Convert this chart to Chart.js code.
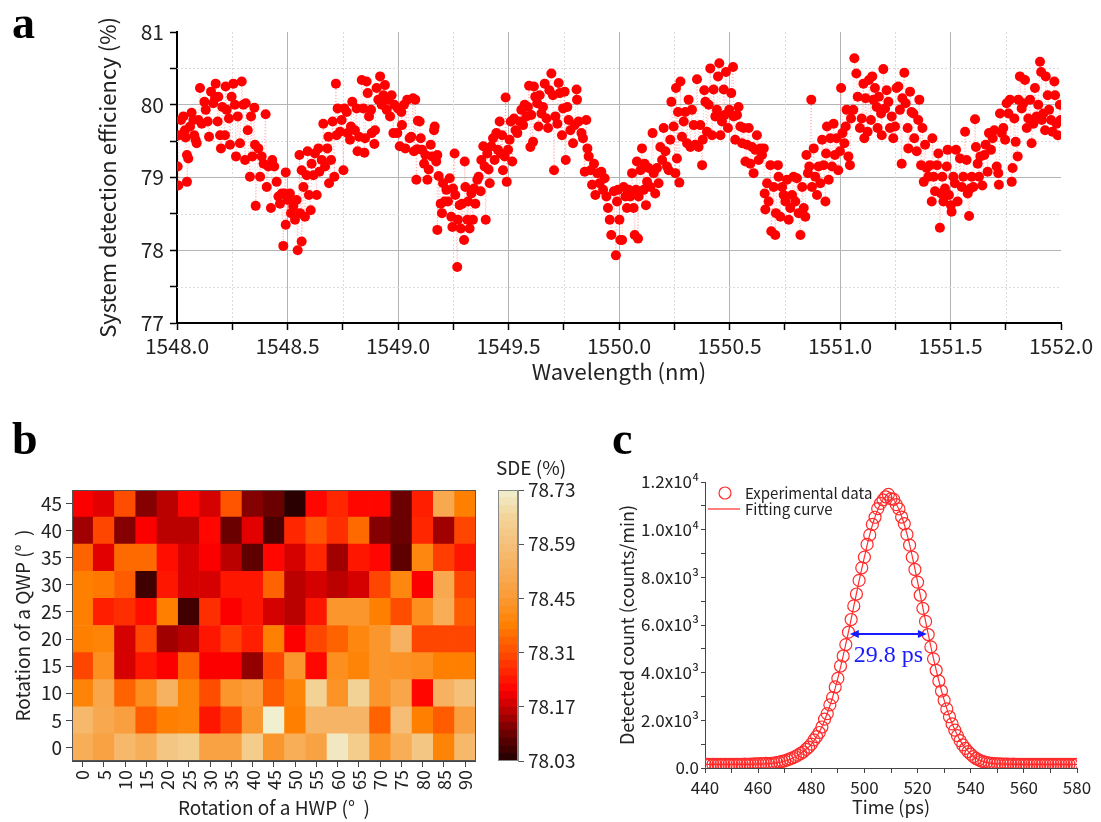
<!DOCTYPE html>
<html><head><meta charset="utf-8">
<script src="https://cdn.jsdelivr.net/npm/chart.js@4.4.1/dist/chart.umd.min.js"></script>
<style>
html,body{margin:0;padding:0;background:#fff;}
#wrap{position:relative;width:1101px;height:822px;overflow:hidden;background:#fff;}
canvas{position:absolute;}
.lbl{position:absolute;font-family:'Liberation Serif','Times New Roman',serif;font-weight:bold;font-size:46px;line-height:46px;color:#000;}
#sdeTitle{position:absolute;left:486px;top:456px;width:90px;text-align:center;font-family:'Noto Sans CJK JP','Noto Sans',sans-serif;font-size:19px;line-height:22px;color:#222;}
</style></head>
<body><div id="wrap">
<canvas id="ca" width="1101" height="400" style="left:0;top:0;width:1101px;height:400px"></canvas>
<canvas id="cb" width="490" height="382" style="left:0;top:440px;width:490px;height:382px"></canvas>
<canvas id="cbar" width="120" height="382" style="left:490px;top:440px;width:120px;height:382px"></canvas>
<canvas id="cc" width="521" height="362" style="left:580px;top:460px;width:521px;height:362px"></canvas>
<div class="lbl" style="left:12px;top:0px">a</div>
<div class="lbl" style="left:12px;top:416px">b</div>
<div class="lbl" style="left:612px;top:416px">c</div>
<div id="sdeTitle">SDE (%)</div>
</div>
<script>
// ---------------- Panel a data ----------------
const wavelengthNm = [
1548.003,1548.006,1548.009,1548.018,1548.029,1548.036,1548.039,1548.045,1548.045,1548.051,
1548.059,1548.066,1548.074,1548.078,1548.084,1548.089,1548.097,1548.104,1548.112,1548.124,
1548.130,1548.139,1548.145,1548.154,1548.164,1548.172,1548.175,1548.184,1548.187,1548.195,
1548.199,1548.205,1548.217,1548.220,1548.225,1548.235,1548.240,1548.247,1548.255,1548.262,
1548.267,1548.275,1548.285,1548.293,1548.300,1548.308,1548.311,1548.320,1548.330,1548.335,
1548.341,1548.350,1548.353,1548.356,1548.368,1548.376,1548.383,1548.392,1548.401,1548.406,
1548.413,1548.425,1548.431,1548.440,1548.451,1548.459,1548.466,1548.474,1548.481,1548.486,
1548.492,1548.492,1548.501,1548.511,1548.516,1548.526,1548.534,1548.541,1548.546,1548.554,
1548.557,1548.564,1548.564,1548.572,1548.579,1548.587,1548.591,1548.597,1548.605,1548.609,
1548.617,1548.624,1548.632,1548.640,1548.644,1548.655,1548.662,1548.670,1548.680,1548.685,
1548.688,1548.697,1548.704,1548.712,1548.719,1548.722,1548.727,1548.738,1548.745,1548.753,
1548.757,1548.768,1548.772,1548.783,1548.787,1548.793,1548.805,1548.813,1548.817,1548.824,
1548.836,1548.843,1548.848,1548.851,1548.858,1548.863,1548.869,1548.878,1548.881,1548.893,
1548.896,1548.903,1548.911,1548.919,1548.926,1548.934,1548.941,1548.949,1548.956,1548.964,
1548.971,1548.979,1548.983,1548.997,1549.000,1549.008,1549.015,1549.018,1549.027,1549.033,
1549.042,1549.053,1549.060,1549.068,1549.072,1549.078,1549.083,1549.087,1549.090,1549.098,
1549.103,1549.109,1549.118,1549.124,1549.133,1549.139,1549.148,1549.154,1549.163,1549.166,
1549.173,1549.178,1549.178,1549.184,1549.193,1549.199,1549.204,1549.211,1549.219,1549.226,
1549.234,1549.241,1549.246,1549.249,1549.256,1549.259,1549.268,1549.271,1549.279,1549.284,
1549.290,1549.299,1549.302,1549.305,1549.314,1549.317,1549.324,1549.332,1549.339,1549.344,
1549.350,1549.359,1549.365,1549.374,1549.377,1549.386,1549.392,1549.397,1549.404,1549.410,
1549.415,1549.422,1549.430,1549.437,1549.445,1549.452,1549.460,1549.465,1549.471,1549.475,
1549.483,1549.487,1549.492,1549.498,1549.505,1549.510,1549.517,1549.525,1549.532,1549.540,
1549.551,1549.558,1549.566,1549.573,1549.581,1549.588,1549.593,1549.599,1549.603,1549.611,
1549.615,1549.621,1549.630,1549.636,1549.641,1549.649,1549.656,1549.664,1549.672,1549.679,
1549.685,1549.694,1549.701,1549.706,1549.712,1549.721,1549.727,1549.732,1549.742,1549.747,
1549.754,1549.759,1549.766,1549.772,1549.780,1549.792,1549.799,1549.808,1549.810,1549.817,
1549.830,1549.837,1549.845,1549.852,1549.857,1549.863,1549.872,1549.878,1549.887,1549.893,
1549.902,1549.912,1549.920,1549.928,1549.935,1549.943,1549.950,1549.958,1549.965,1549.977,
1549.986,1549.991,1549.995,1550.002,1550.006,1550.014,1550.021,1550.029,1550.036,1550.044,
1550.051,1550.059,1550.066,1550.071,1550.077,1550.081,1550.086,1550.089,1550.097,1550.104,
1550.112,1550.116,1550.122,1550.127,1550.134,1550.142,1550.152,1550.157,1550.164,1550.172,
1550.179,1550.187,1550.195,1550.202,1550.210,1550.217,1550.225,1550.232,1550.237,1550.247,
1550.255,1550.258,1550.262,1550.267,1550.273,1550.278,1550.285,1550.293,1550.300,1550.308,
1550.315,1550.323,1550.330,1550.338,1550.345,1550.353,1550.360,1550.368,1550.376,1550.379,
1550.386,1550.391,1550.398,1550.406,1550.413,1550.421,1550.428,1550.436,1550.443,1550.448,
1550.454,1550.459,1550.466,1550.474,1550.478,1550.484,1550.493,1550.499,1550.508,1550.516,
1550.519,1550.526,1550.534,1550.541,1550.549,1550.557,1550.564,1550.572,1550.579,1550.587,
1550.594,1550.602,1550.609,1550.617,1550.624,1550.632,1550.640,1550.647,1550.655,1550.659,
1550.662,1550.670,1550.677,1550.685,1550.689,1550.700,1550.707,1550.710,1550.719,1550.722,
1550.730,1550.738,1550.745,1550.753,1550.760,1550.768,1550.775,1550.783,1550.790,1550.798,
1550.805,1550.813,1550.821,1550.829,1550.836,1550.843,1550.848,1550.855,1550.861,1550.870,
1550.873,1550.881,1550.888,1550.896,1550.903,1550.911,1550.919,1550.926,1550.934,1550.937,
1550.941,1550.949,1550.956,1550.964,1550.971,1550.977,1550.985,1550.992,1551.000,1551.005,
1551.011,1551.020,1551.026,1551.030,1551.038,1551.045,1551.050,1551.060,1551.065,1551.074,
1551.080,1551.090,1551.098,1551.106,1551.110,1551.116,1551.125,1551.131,1551.140,1551.146,
1551.151,1551.158,1551.166,1551.170,1551.176,1551.186,1551.189,1551.196,1551.204,1551.211,
1551.219,1551.226,1551.234,1551.241,1551.249,1551.256,1551.264,1551.271,1551.279,1551.282,
1551.291,1551.297,1551.306,1551.309,1551.317,1551.324,1551.332,1551.336,1551.347,1551.354,
1551.359,1551.367,1551.373,1551.379,1551.385,1551.392,1551.400,1551.407,1551.415,1551.418,
1551.424,1551.430,1551.439,1551.445,1551.452,1551.457,1551.463,1551.468,1551.475,1551.483,
1551.487,1551.493,1551.502,1551.505,1551.513,1551.520,1551.525,1551.532,1551.543,1551.551,
1551.558,1551.566,1551.573,1551.578,1551.584,1551.590,1551.596,1551.603,1551.611,1551.615,
1551.623,1551.629,1551.635,1551.644,1551.653,1551.659,1551.668,1551.674,1551.683,1551.691,
1551.698,1551.709,1551.716,1551.719,1551.724,1551.732,1551.739,1551.747,1551.754,1551.762,
1551.769,1551.777,1551.781,1551.789,1551.795,1551.804,1551.807,1551.814,1551.822,1551.830,
1551.837,1551.845,1551.852,1551.860,1551.867,1551.875,1551.882,1551.890,1551.897,1551.905,
1551.910,1551.913,1551.920,1551.928,1551.931,1551.940,1551.946,1551.955,1551.961,1551.970,
1551.973,1551.980,1551.985,1551.995,1551.998
];
const sdePercent = [
79.15,78.89,79.58,79.79,79.84,79.65,79.55,79.31,78.94,79.26,
79.70,79.89,79.79,79.58,79.52,79.47,79.79,80.23,79.74,80.04,
79.93,79.77,79.56,80.18,80.02,80.09,80.29,79.77,80.11,79.58,
79.40,79.97,79.58,80.25,79.93,79.81,79.45,80.11,80.29,80.00,
79.29,79.84,79.47,80.32,80.00,79.24,80.02,79.65,79.01,79.84,
79.29,79.96,79.45,78.61,79.40,79.01,79.29,79.19,79.87,78.87,
79.15,78.58,79.24,79.15,78.94,78.74,78.64,78.78,78.06,78.78,
79.07,78.35,78.69,78.78,78.51,78.60,78.42,78.69,78.00,79.31,
78.51,79.10,78.12,78.87,78.46,79.03,79.36,78.76,78.55,79.19,
79.03,79.33,78.76,79.40,79.08,79.24,79.74,79.15,79.40,79.56,
78.92,79.24,79.77,79.01,80.29,79.58,79.95,79.63,79.79,79.10,
79.95,79.90,79.61,79.52,79.70,80.04,79.65,79.95,79.36,79.56,
80.34,79.95,79.34,79.54,80.32,80.16,79.84,79.93,79.61,79.46,
79.65,80.23,80.07,80.39,80.00,80.13,80.27,79.93,80.07,79.84,
80.13,79.61,80.00,79.61,79.95,79.43,79.90,79.72,80.00,79.40,
80.07,79.54,79.56,80.09,79.36,80.07,78.97,79.39,79.78,79.77,
79.54,79.38,79.19,79.31,78.97,79.11,79.45,79.29,79.65,79.70,
79.22,79.31,78.28,79.02,78.64,78.51,78.92,78.67,78.83,78.67,
78.99,78.46,78.32,78.85,79.33,78.76,77.77,78.42,78.62,78.30,
78.64,78.14,79.22,78.87,78.42,78.67,78.30,78.78,78.42,78.85,
78.64,78.97,79.01,78.81,79.24,79.43,79.15,78.42,79.33,79.11,
78.92,79.43,79.54,79.24,79.61,79.38,79.77,79.33,79.58,79.10,
79.29,80.10,78.94,79.38,79.52,79.77,79.22,79.81,79.65,79.61,
79.77,79.93,79.72,80.00,79.84,79.97,80.26,79.42,79.86,79.49,
80.25,80.11,80.02,79.70,80.13,79.88,79.97,80.29,79.81,79.68,
80.20,80.43,80.13,79.10,79.84,79.74,80.30,80.16,79.58,79.95,
80.18,79.24,79.97,79.79,79.65,79.47,79.72,80.21,80.07,79.77,
79.61,79.54,79.08,79.79,79.40,79.29,79.10,78.90,79.19,78.76,
79.06,78.92,79.08,78.83,78.99,78.74,78.58,78.42,78.21,78.81,
77.93,78.67,78.83,78.42,78.14,78.14,78.87,78.74,78.58,78.83,
78.74,79.06,78.58,78.21,78.83,79.22,78.16,78.74,79.10,79.40,
78.83,79.19,78.62,78.94,79.13,78.87,79.61,79.06,78.78,79.13,
78.92,79.42,79.24,79.68,79.36,79.15,79.10,79.52,80.04,79.70,
79.06,80.23,79.26,79.90,78.93,80.32,79.56,79.77,79.90,79.47,
80.07,79.42,79.93,79.72,79.45,80.35,79.42,79.72,79.17,79.52,
80.20,80.04,79.63,80.00,80.50,79.58,80.21,79.84,79.93,80.39,
80.57,79.58,79.77,80.21,79.86,80.45,79.68,79.93,80.16,80.52,
79.84,79.52,79.86,79.97,79.70,79.47,79.68,79.22,79.45,79.68,
79.19,79.42,79.06,79.38,79.58,79.24,79.40,79.31,79.40,78.78,
78.56,78.92,78.67,79.17,78.26,78.87,78.21,78.51,79.17,79.01,
78.46,78.87,78.76,78.67,78.97,78.42,78.58,78.76,79.01,78.67,
78.99,78.51,78.21,78.87,78.58,78.46,79.31,79.06,79.15,80.07,
78.87,79.40,79.01,78.76,79.15,78.92,79.52,79.17,78.67,79.33,
79.70,78.97,79.54,79.15,79.74,79.31,79.54,79.10,79.36,80.23,
79.61,79.47,79.70,79.93,79.29,79.17,79.81,79.93,80.64,80.43,
80.11,79.68,79.81,80.29,79.54,80.09,79.63,80.34,79.79,80.39,
80.07,80.23,79.97,79.68,80.11,79.88,79.58,80.49,79.95,80.20,
80.04,79.68,79.84,79.54,79.70,80.23,80.25,79.93,79.19,80.09,
80.44,80.02,79.68,79.40,80.18,79.90,79.88,79.54,79.36,79.79,
80.07,79.17,79.68,78.94,79.45,79.13,79.01,79.17,78.67,79.54,
79.01,78.81,79.17,79.33,78.31,78.78,79.01,78.67,78.85,79.15,
79.38,78.76,78.62,78.53,79.01,78.92,79.38,78.67,79.26,78.87,
79.01,79.63,79.24,78.78,78.47,78.85,79.01,78.87,79.80,79.42,
79.19,79.01,79.29,78.89,79.31,79.45,79.08,79.61,79.38,79.54,
79.65,79.15,79.06,78.90,79.88,79.61,79.68,79.52,80.02,79.88,
80.07,78.94,79.13,79.81,79.49,79.29,80.07,80.39,79.95,80.02,
80.34,79.68,79.81,80.07,79.47,79.74,80.23,79.84,80.00,80.59,
80.45,79.79,79.88,79.65,80.39,80.13,79.93,79.79,79.63,80.32,
80.13,79.74,79.58,80.00,79.79
];

// ---------------- Panel b data ----------------
const hwpDeg = [0,5,10,15,20,25,30,35,40,45,50,55,60,65,70,75,80,85,90];
const qwpDeg = [0,5,10,15,20,25,30,35,40,45];
const sdeQwp0  = [78.52,78.48,78.56,78.52,78.61,78.63,78.48,78.48,78.63,78.44,78.52,78.48,78.71,78.63,78.43,78.52,78.61,78.39,78.56];
const sdeQwp5  = [78.56,78.50,78.47,78.33,78.38,78.39,78.24,78.30,78.44,78.73,78.38,78.55,78.55,78.55,78.34,78.58,78.38,78.33,78.47];
const sdeQwp10 = [78.39,78.49,78.34,78.42,78.54,78.39,78.31,78.44,78.46,78.33,78.39,78.65,78.43,78.65,78.44,78.49,78.22,78.54,78.59];
const sdeQwp15 = [78.30,78.42,78.18,78.24,78.21,78.34,78.21,78.21,78.13,78.30,78.44,78.22,78.42,78.39,78.44,78.43,78.42,78.38,78.38];
const sdeQwp20 = [78.38,78.39,78.18,78.30,78.14,78.16,78.24,78.29,78.25,78.38,78.21,78.30,78.34,78.40,78.44,78.54,78.30,78.30,78.30];
const sdeQwp25 = [78.38,78.25,78.27,78.23,78.38,78.06,78.27,78.21,78.24,78.18,78.16,78.24,78.44,78.44,78.38,78.31,78.42,78.52,78.33];
const sdeQwp30 = [78.38,78.37,78.33,78.06,78.24,78.18,78.18,78.24,78.24,78.34,78.16,78.18,78.16,78.18,78.30,78.40,78.21,78.50,78.30];
const sdeQwp35 = [78.34,78.19,78.35,78.35,78.23,78.18,78.21,78.16,78.09,78.22,78.18,78.26,78.14,78.24,78.22,78.09,78.40,78.29,78.24];
const sdeQwp40 = [78.14,78.30,78.12,78.21,78.16,78.16,78.22,78.10,78.19,78.07,78.26,78.32,78.27,78.35,78.12,78.10,78.26,78.14,78.30];
const sdeQwp45 = [78.21,78.19,78.31,78.12,78.16,78.22,78.18,78.32,78.12,78.10,78.04,78.22,78.26,78.22,78.22,78.10,78.25,78.50,78.38];
const sdeRows = [sdeQwp0,sdeQwp5,sdeQwp10,sdeQwp15,sdeQwp20,sdeQwp25,sdeQwp30,sdeQwp35,sdeQwp40,sdeQwp45];
const cbMin = 78.03, cbMax = 78.73;
const cbTicks = [78.03,78.17,78.31,78.45,78.59,78.73];

// ---------------- Panel c data ----------------
const timePs = [
440,441,442,443,444,445,446,447,448,449,450,451,452,453,454,455,456,457,458,459,
460,461,462,463,464,465,466,467,468,469,470,471,472,473,474,475,476,477,478,479,
480,481,482,483,484,485,486,487,488,489,490,491,492,493,494,495,496,497,498,499,
500,501,502,503,504,505,506,507,508,509,510,511,512,513,514,515,516,517,518,519,
520,521,522,523,524,525,526,527,528,529,530,531,532,533,534,535,536,537,538,539,
540,541,542,543,544,545,546,547,548,549,550,551,552,553,554,555,556,557,558,559,
560,561,562,563,564,565,566,567,568,569,570,571,572,573,574,575,576,577,578,579,580
];
const expCounts = [
160,150,155,148,152,150,158,150,153,149,155,152,150,157,153,160,158,165,162,170,
172,180,178,190,185,195,210,230,250,280,300,340,380,430,480,540,610,680,780,880,
1000,1180,1320,1490,1720,2050,2280,2650,2950,3400,3760,4280,4700,5180,5700,6230,6800,7300,7870,8400,
8850,9380,9780,10220,10520,10880,11100,11250,11380,11480,11300,11270,11050,10870,10530,10250,9800,9350,8850,8330,
7800,7250,6700,6150,5600,5080,4580,4100,3650,3230,2840,2480,2150,1850,1590,1360,1150,970,820,690,
580,480,400,340,290,255,230,210,195,185,178,172,168,165,160,158,162,155,157,152,
155,150,153,151,156,150,152,149,154,150,153,150,151,155,150,152,149,153,150,152,150
];
const fitTimePs = [
440,442,444,446,448,450,452,454,456,458,460,462,464,466,468,470,472,474,476,478,
480,482,484,486,488,490,492,494,496,498,500,502,504,506,508,510,512,514,516,518,
520,522,524,526,528,530,532,534,536,538,540,542,544,546,548,550,552,554,556,558,
560,562,564,566,568,570,572,574,576,578,580
];
const fitCounts = [
150,150,150,150,150,150,150,151,152,155,160,168,180,200,235,285,360,470,610,780,
990,1310,1730,2290,2960,3770,4700,5710,6790,7860,8860,9790,10540,11090,11370,11360,11080,10560,9820,8880,
7820,6720,5620,4590,3660,2850,2160,1600,1160,830,590,410,300,235,198,178,166,160,156,153,
152,151,150,150,150,150,150,150,150,150,150
];
const legendLabels = ['Experimental data','Fitting curve'];
const fwhmStartPs = 494.5, fwhmEndPs = 523.5, fwhmLevel = 5620, fwhmText = '29.8 ps';

// ---------------- common ----------------
const FONT = "'Noto Sans CJK JP','Noto Sans',sans-serif";
Chart.defaults.font.family = FONT;
Chart.defaults.color = '#222';
Chart.defaults.animation = false;
Chart.defaults.responsive = false;
Chart.defaults.devicePixelRatio = 1;
Chart.defaults.plugins.legend.display = false;
Chart.defaults.plugins.tooltip.enabled = false;

const heatStops = [
  [0,[32,0,0]],[0.1,[106,0,0]],[0.2,[200,0,0]],[0.26,[255,0,0]],[0.39,[255,72,0]],
  [0.5,[255,128,0]],[0.6,[250,154,53]],[0.8,[245,192,122]],[0.9,[243,213,154]],[1,[240,240,208]]
];
function heatColor(v){
  let t = (v - cbMin)/(cbMax - cbMin);
  t = Math.max(0, Math.min(1, t));
  for (let i = 1; i < heatStops.length; i++){
    const [t1,c1] = heatStops[i];
    if (t <= t1){
      const [t0,c0] = heatStops[i-1];
      const f = (t - t0)/(t1 - t0);
      const c = c0.map((a,k)=>Math.round(a + (c1[k]-a)*f));
      return `rgb(${c[0]},${c[1]},${c[2]})`;
    }
  }
  return 'rgb(240,240,208)';
}

// ---------------- Panel a ----------------
const isHalf = v => Math.abs(v*2 - Math.round(v*2)) < 1e-6;
const isInt = v => Math.abs(v - Math.round(v)) < 1e-6;
const minorGrid = {
  id: 'minorGrid',
  beforeDatasetsDraw(chart, args, opts){
    const {ctx, chartArea:a, scales:{x, y}} = chart;
    ctx.save();
    ctx.strokeStyle = opts.color; ctx.lineWidth = 1; ctx.setLineDash(opts.dash);
    x.ticks.forEach(t => {
      if (!isHalf(t.value)) {
        const px = Math.round(x.getPixelForValue(t.value)) + 0.5;
        ctx.beginPath(); ctx.moveTo(px, a.top); ctx.lineTo(px, a.bottom); ctx.stroke();
      }
    });
    y.ticks.forEach(t => {
      if (!isInt(t.value)) {
        const py = Math.round(y.getPixelForValue(t.value)) + 0.5;
        ctx.beginPath(); ctx.moveTo(a.left, py); ctx.lineTo(a.right, py); ctx.stroke();
      }
    });
    ctx.restore();
  }
};
const scanPoints = wavelengthNm.map((w,i)=>({x:w, y:sdePercent[i]})).sort((p,q)=>p.x-q.x);
new Chart(document.getElementById('ca'), {
  type: 'scatter',
  data: { datasets: [{
    data: scanPoints, showLine: true,
    borderColor: 'rgba(255,90,90,0.45)', borderWidth: 1, borderDash: [1,2],
    pointRadius: 5, pointHoverRadius: 5,
    pointBackgroundColor: '#ff0000', pointBorderColor: '#ff0000', pointBorderWidth: 0
  }]},
  options: {
    layout: { padding: { top: 32, right: 40, left: 0, bottom: 0 } },
    scales: {
      x: {
        type: 'linear', min: 1548, max: 1552,
        afterFit(s){ s.height = 77; },
        ticks: { stepSize: 0.25, maxTicksLimit: 1000, autoSkip: false, maxRotation: 0, minRotation: 0,
          padding: 3, font: { size: 21 }, color: '#222',
          callback: v => isHalf(v) ? v.toFixed(1) : '' },
        grid: { color: c => (c.tick && isHalf(c.tick.value) && c.tick.value < 1552) ? '#b4b4b4' : 'rgba(0,0,0,0)',
          lineWidth: 1, tickLength: 7, tickColor: '#000', tickWidth: 1.5 },
        border: { display: true, color: '#000', width: 2 },
        title: { display: true, text: 'Wavelength (nm)', font: { size: 22 }, color: '#222', padding: { top: 0, bottom: 15 } }
      },
      y: {
        type: 'linear', min: 77, max: 81,
        afterFit(s){ s.width = 177; },
        ticks: { stepSize: 0.5, maxTicksLimit: 1000, padding: 6, font: { size: 21 }, color: '#222',
          callback: v => isInt(v) ? String(Math.round(v)) : '' },
        grid: { color: c => (c.tick && isInt(c.tick.value) && c.tick.value < 81) ? '#b4b4b4' : 'rgba(0,0,0,0)',
          lineWidth: 1, tickLength: 7, tickColor: '#000', tickWidth: 1.5 },
        border: { display: true, color: '#000', width: 2 },
        title: { display: true, text: 'System detection efficiency (%)', font: { size: 22 }, color: '#222', padding: { top: 94, bottom: 0 } }
      }
    },
    plugins: { minorGrid: { color: '#dedada', dash: [2,2] } }
  },
  plugins: [minorGrid]
});

// ---------------- Panel b heatmap ----------------
const frame = {
  id: 'frame',
  afterDraw(chart, args, opts){
    const {ctx, chartArea:a} = chart;
    ctx.save(); ctx.strokeStyle = opts.color; ctx.lineWidth = 1;
    ctx.strokeRect(Math.round(a.left)+0.5, Math.round(a.top)+0.5, Math.round(a.right-a.left)-1, Math.round(a.bottom-a.top)-1);
    ctx.restore();
  }
};
new Chart(document.getElementById('cb'), {
  type: 'bar',
  data: {
    labels: hwpDeg.map(String),
    datasets: qwpDeg.map((q, r) => ({
      data: hwpDeg.map(() => [q - 2.5, q + 2.5]),
      backgroundColor: sdeRows[r].map(heatColor),
      borderWidth: 0, barPercentage: 1, categoryPercentage: 1, grouped: false
    }))
  },
  options: {
    layout: { padding: { top: 50, right: 7, left: 0, bottom: 0 } },
    scales: {
      x: {
        type: 'category',
        afterFit(s){ s.height = 61; },
        ticks: { minRotation: 90, maxRotation: 90, autoSkip: false, padding: 3, font: { size: 18 }, color: '#222' },
        grid: { offset: false, drawOnChartArea: false, tickLength: 6, tickColor: '#444' },
        border: { color: '#444', width: 1 },
        title: { display: true, text: 'Rotation of a HWP (°  )', font: { size: 19 }, color: '#222', padding: { top: 0, bottom: 3 } }
      },
      y: {
        type: 'linear', min: -2.5, max: 47.5,
        afterBuildTicks(s){ s.ticks = qwpDeg.map(v => ({ value: v })); },
        afterFit(s){ s.width = 72; },
        ticks: { padding: 4, font: { size: 19 }, color: '#222', callback: v => String(v) },
        grid: { drawOnChartArea: false, tickLength: 6, tickColor: '#444' },
        border: { color: '#444', width: 1 },
        title: { display: true, text: 'Rotation of a QWP (°  )', font: { size: 19 }, color: '#222', padding: { top: 11, bottom: 0 } }
      }
    },
    plugins: { frame: { color: '#555' } }
  },
  plugins: [frame]
});

// ---------------- Panel b colorbar ----------------
const cbSteps = 35;
new Chart(document.getElementById('cbar'), {
  type: 'bar',
  data: {
    labels: [''],
    datasets: Array.from({ length: cbSteps }, (_, i) => {
      const lo = cbMin + (cbMax - cbMin) * i / cbSteps;
      const hi = cbMin + (cbMax - cbMin) * (i + 1) / cbSteps;
      return { data: [[lo, hi]], backgroundColor: heatColor((lo + hi) / 2),
        borderWidth: 0, barPercentage: 1, categoryPercentage: 1, grouped: false };
    })
  },
  options: {
    layout: { padding: { top: 50, right: 0, left: 8, bottom: 61 } },
    scales: {
      x: { display: false },
      y: {
        position: 'right', min: cbMin, max: cbMax,
        afterBuildTicks(s){ s.ticks = cbTicks.map(v => ({ value: v })); },
        afterFit(s){ s.width = 92; },
        ticks: { padding: 4, font: { size: 19 }, color: '#222', callback: v => Number(v).toFixed(2) },
        grid: { drawOnChartArea: false, tickLength: 6, tickColor: '#555' },
        border: { color: '#888', width: 1 }
      }
    },
    plugins: { frame: { color: '#888' } }
  },
  plugins: [frame]
});

// ---------------- Panel c ----------------
function fmtCount(v){
  if (v === 0) return '0.0';
  if (v < 10000) return (v/1000).toFixed(1) + 'x10³';
  return (v/10000).toFixed(1) + 'x10⁴';
}
const cExtras = {
  id: 'cExtras',
  afterDatasetsDraw(chart){
    const {ctx, chartArea:a, scales:{x, y}} = chart;
    ctx.save();
    ctx.strokeStyle = '#ff2a2a'; ctx.lineWidth = 1.2;
    ctx.beginPath(); ctx.arc(a.left + 20, a.top + 11, 6, 0, Math.PI * 2); ctx.stroke();
    ctx.beginPath(); ctx.moveTo(a.left + 3, a.top + 27); ctx.lineTo(a.left + 35, a.top + 27); ctx.stroke();
    ctx.fillStyle = '#222'; ctx.font = "15px " + FONT; ctx.textBaseline = 'middle'; ctx.textAlign = 'left';
    ctx.fillText(legendLabels[0], a.left + 40, a.top + 11);
    ctx.fillText(legendLabels[1], a.left + 40, a.top + 27);
    const x1 = x.getPixelForValue(fwhmStartPs), x2 = x.getPixelForValue(fwhmEndPs), yy = y.getPixelForValue(fwhmLevel);
    ctx.strokeStyle = '#1a1aff'; ctx.fillStyle = '#1a1aff'; ctx.lineWidth = 2;
    ctx.beginPath(); ctx.moveTo(x1 + 6, yy); ctx.lineTo(x2 - 6, yy); ctx.stroke();
    ctx.beginPath(); ctx.moveTo(x1, yy); ctx.lineTo(x1 + 9, yy - 4); ctx.lineTo(x1 + 9, yy + 4); ctx.closePath(); ctx.fill();
    ctx.beginPath(); ctx.moveTo(x2, yy); ctx.lineTo(x2 - 9, yy - 4); ctx.lineTo(x2 - 9, yy + 4); ctx.closePath(); ctx.fill();
    ctx.font = "24px 'Liberation Serif','Times New Roman',serif"; ctx.textAlign = 'center';
    ctx.fillText(fwhmText, (x1 + x2) / 2, yy + 22);
    ctx.restore();
  }
};
new Chart(document.getElementById('cc'), {
  type: 'scatter',
  data: { datasets: [
    { data: timePs.map((t,i)=>({x:t, y:expCounts[i]})), showLine: false,
      pointRadius: 6, pointHoverRadius: 6, pointBorderColor: '#ff2a2a', pointBackgroundColor: 'rgba(0,0,0,0)', pointBorderWidth: 1.2 },
    { data: fitTimePs.map((t,i)=>({x:t, y:fitCounts[i]})), showLine: true, pointRadius: 0,
      borderColor: '#ff3030', borderWidth: 1.2, cubicInterpolationMode: 'monotone' }
  ]},
  options: {
    layout: { padding: { top: 22, right: 24, left: 0, bottom: 0 } },
    scales: {
      x: {
        type: 'linear', min: 440, max: 580,
        afterFit(s){ s.height = 54; },
        ticks: { stepSize: 10, maxTicksLimit: 1000, autoSkip: false, maxRotation: 0, minRotation: 0, padding: 4,
          font: { size: 17 }, color: '#222', callback: v => (v % 20 === 0) ? String(v) : '' },
        grid: { drawOnChartArea: false, tickLength: 5, tickColor: '#444' },
        border: { color: '#444', width: 1 },
        title: { display: true, text: 'Time (ps)', font: { size: 18 }, color: '#222', padding: { top: 0, bottom: 4 } }
      },
      y: {
        type: 'linear', min: 0, max: 12000,
        afterFit(s){ s.width = 125; },
        ticks: { stepSize: 1000, maxTicksLimit: 1000, padding: 2, font: { size: 17 }, color: '#222',
          callback: v => (v % 2000 === 0) ? fmtCount(v) : '' },
        grid: { drawOnChartArea: false, tickLength: 4, tickColor: '#444' },
        border: { color: '#444', width: 1 },
        title: { display: true, text: 'Detected count (counts/min)', font: { size: 18 }, color: '#222', padding: { top: 36, bottom: 0 } }
      }
    }
  },
  plugins: [cExtras]
});
</script>
</body></html>
